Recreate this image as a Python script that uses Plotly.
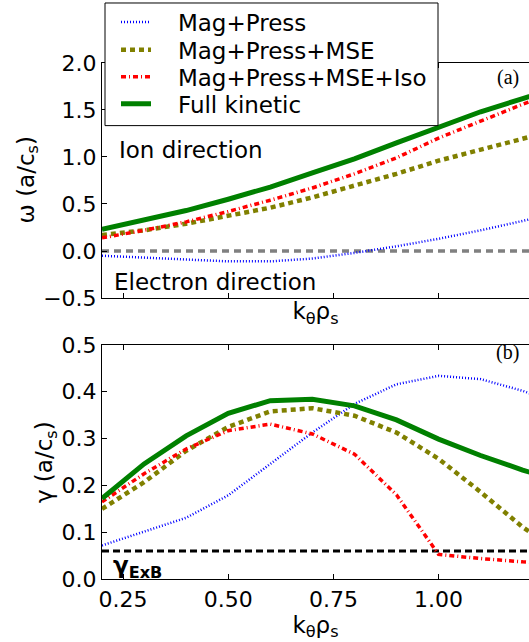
import plotly.graph_objects as go

# wavenumber grid k_theta * rho_s
k = [0.2, 0.3, 0.4, 0.5, 0.6, 0.7, 0.8, 0.9, 1.0, 1.1, 1.2, 1.3]

# real frequency omega (a/c_s)
omega_mag_press = [-0.05, -0.07, -0.09, -0.11, -0.11, -0.08, -0.02, 0.05, 0.13, 0.22, 0.32, 0.42]
omega_mse = [0.17, 0.22, 0.29, 0.37, 0.46, 0.57, 0.69, 0.82, 0.96, 1.08, 1.20, 1.31]
omega_iso = [0.14, 0.22, 0.31, 0.42, 0.54, 0.67, 0.82, 0.99, 1.20, 1.38, 1.56, 1.72]
omega_kinetic = [0.23, 0.33, 0.43, 0.55, 0.68, 0.83, 0.98, 1.15, 1.32, 1.48, 1.62, 1.76]

# growth rate gamma (a/c_s)
gamma_mag_press = [0.072, 0.101, 0.131, 0.179, 0.246, 0.313, 0.374, 0.416, 0.434, 0.427, 0.402, 0.37]
gamma_mse = [0.150, 0.207, 0.274, 0.325, 0.358, 0.365, 0.349, 0.313, 0.257, 0.186, 0.111, 0.05]
gamma_iso = [0.165, 0.225, 0.278, 0.317, 0.331, 0.310, 0.267, 0.180, 0.053, 0.044, 0.037, 0.032]
gamma_kinetic = [0.172, 0.246, 0.306, 0.354, 0.381, 0.384, 0.370, 0.340, 0.299, 0.264, 0.233, 0.205]

gamma_exb = 0.06

series_names = ["Mag+Press", "Mag+Press+MSE", "Mag+Press+MSE+Iso", "Full kinetic"]
omega_sets = [omega_mag_press, omega_mse, omega_iso, omega_kinetic]
gamma_sets = [gamma_mag_press, gamma_mse, gamma_iso, gamma_kinetic]
styles = [
    dict(color="#0000FF", width=2.5, dash="1px,2px"),
    dict(color="#808000", width=4.5, dash="5px,4px"),
    dict(color="#FF0000", width=3.5, dash="5px,3px,1px,3px"),
    dict(color="#008000", width=5, dash="solid"),
]

x_ticks = [0.25, 0.50, 0.75, 1.00]
x_range = [0.2, 1.215]

W, H = 529, 642
L = 102
FONT = "DejaVu Sans"
TICK_SIZE = 22
TEXT_SIZE = 23

# legend geometry (pixels): box and the centre line of each row
LEG_BOX = (105, 1, 438, 124)
LEG_ROWS = [20, 48, 75, 102]
LEG_NAMES = ["legend", "legend2", "legend3", "legend4"]
PAD = "\u00a0\u00a0\u00a0"


def px_y(p):
    return 1 - p / H


def px_x(p):
    return (p - L) / (W - L)


fig = go.Figure()

# zero line separating ion / electron direction
fig.add_trace(go.Scatter(x=x_range, y=[0, 0], mode="lines", showlegend=False,
                         line=dict(color="#808080", width=3.5, dash="7px,5px"),
                         xaxis="x", yaxis="y", hoverinfo="skip"))
# E x B shearing rate
fig.add_trace(go.Scatter(x=x_range, y=[gamma_exb, gamma_exb], mode="lines", showlegend=False,
                         line=dict(color="black", width=3, dash="7px,4px"),
                         xaxis="x2", yaxis="y2", hoverinfo="skip"))

for name, om, ga, st, lg in zip(series_names, omega_sets, gamma_sets, styles, LEG_NAMES):
    fig.add_trace(go.Scatter(x=k, y=om, mode="lines", name=PAD + name, line=st,
                             xaxis="x", yaxis="y", legend=lg))
    fig.add_trace(go.Scatter(x=k, y=ga, mode="lines", name=name, line=st,
                             xaxis="x2", yaxis="y2", showlegend=False))

axis_common = dict(showline=True, linecolor="black", linewidth=1, ticks="inside",
                   ticklen=5, tickcolor="black", showgrid=False, zeroline=False,
                   automargin=False,
                   tickfont=dict(family=FONT, size=TICK_SIZE, color="black"))

kx_title = "k<sub>θ</sub>ρ<sub>s</sub>"
top_dom = [px_y(297), px_y(61)]
bot_dom = [px_y(579), px_y(344)]

legend_layout = {}
for lg, row in zip(LEG_NAMES, LEG_ROWS):
    legend_layout[lg] = dict(x=px_x(116), y=px_y(row), xanchor="left", yanchor="middle",
                             bgcolor="rgba(0,0,0,0)", borderwidth=0,
                             font=dict(family=FONT, size=TEXT_SIZE, color="black"))

fig.update_layout(
    width=W, height=H, template="none",
    margin=dict(l=L, r=0, t=0, b=0),
    paper_bgcolor="white", plot_bgcolor="white",
    font=dict(family=FONT, size=TICK_SIZE, color="black"),
    xaxis=dict(axis_common, domain=[0, 1], anchor="y", range=x_range,
               tickvals=x_ticks, showticklabels=False, mirror="ticks",
               title=dict(text=kx_title, font=dict(family=FONT, size=TEXT_SIZE), standoff=4)),
    yaxis=dict(axis_common, domain=top_dom, anchor="x",
               range=[-0.5, 2.0], tickvals=[-0.5, 0, 0.5, 1.0, 1.5, 2.0],
               tickformat=".1f"),
    xaxis2=dict(axis_common, domain=[0, 1], anchor="y2", range=x_range,
                tickvals=x_ticks, tickformat=".2f", mirror="ticks",
                title=dict(text=kx_title, font=dict(family=FONT, size=TEXT_SIZE), standoff=4)),
    yaxis2=dict(axis_common, domain=bot_dom, anchor="x2",
                range=[0, 0.5], tickvals=[0, 0.1, 0.2, 0.3, 0.4, 0.5],
                tickformat=".1f"),
    showlegend=True,
    **legend_layout,
)

# white legend frame, drawn over the curves and under the legend entries
fig.add_shape(type="rect", xref="paper", yref="paper",
              x0=px_x(LEG_BOX[0]), x1=px_x(LEG_BOX[2]),
              y0=px_y(LEG_BOX[3]), y1=px_y(LEG_BOX[1]),
              fillcolor="white", line=dict(color="black", width=1), layer="above")

# y-axis titles
fig.add_annotation(x=px_x(28), y=sum(top_dom) / 2, xref="paper", yref="paper",
                   text="ω (a/c<sub>s</sub>)", textangle=-90, showarrow=False,
                   xanchor="center", yanchor="middle",
                   font=dict(family=FONT, size=TEXT_SIZE, color="black"))
fig.add_annotation(x=px_x(46), y=sum(bot_dom) / 2, xref="paper", yref="paper",
                   text="γ (a/c<sub>s</sub>)", textangle=-90, showarrow=False,
                   xanchor="center", yanchor="middle",
                   font=dict(family=FONT, size=TEXT_SIZE, color="black"))

fig.add_annotation(x=0.236, y=1.07, xref="x", yref="y", text="Ion direction",
                   showarrow=False, xanchor="left", yanchor="middle",
                   font=dict(family=FONT, size=TEXT_SIZE, color="black"))
fig.add_annotation(x=0.224, y=-0.33, xref="x", yref="y", text="Electron direction",
                   showarrow=False, xanchor="left", yanchor="middle",
                   font=dict(family=FONT, size=TEXT_SIZE, color="black"))
fig.add_annotation(x=0.222, y=0.026, xref="x2", yref="y2",
                   text="<b>γ<sub>ExB</sub></b>",
                   showarrow=False, xanchor="left", yanchor="middle",
                   font=dict(family=FONT, size=TEXT_SIZE, color="black"))
fig.add_annotation(x=1.197, y=1.84, xref="x", yref="y", text="(a)",
                   showarrow=False, xanchor="right", yanchor="middle",
                   font=dict(family="Liberation Serif", size=20, color="black"))
fig.add_annotation(x=1.197, y=0.483, xref="x2", yref="y2", text="(b)",
                   showarrow=False, xanchor="right", yanchor="middle",
                   font=dict(family="Liberation Serif", size=20, color="black"))

fig.write_html("out.html")
